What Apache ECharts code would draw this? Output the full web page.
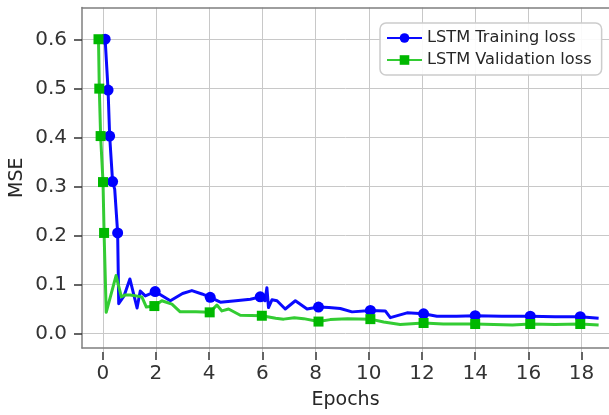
<!DOCTYPE html>
<html>
<head>
<meta charset="utf-8">
<script src="https://cdn.jsdelivr.net/npm/echarts@6/dist/echarts.min.js"></script>
<style>
  html, body { margin: 0; padding: 0; background: #fff; }
  #main { width: 609px; height: 415px; }
</style>
</head>
<body>
<div id="main"></div>
<script>
// LSTM training loss (blue)
const trainX = [0.09, 0.20, 0.26, 0.37, 0.45, 0.56, 0.60, 0.80, 1.02, 1.29, 1.41, 1.60, 1.97, 2.54, 3.00, 3.35, 3.73, 4.04, 4.42, 5.00, 5.55, 5.92, 6.10, 6.17, 6.23, 6.36, 6.55, 6.86, 7.24, 7.68, 8.11, 8.50, 8.93, 9.37, 10.06, 10.62, 10.81, 11.44, 12.06, 12.56, 13.30, 14.00, 15.00, 16.07, 17.00, 17.95, 18.64];
const trainY = [0.600, 0.495, 0.400, 0.306, 0.290, 0.200, 0.054, 0.070, 0.105, 0.045, 0.080, 0.070, 0.079, 0.060, 0.075, 0.081, 0.074, 0.067, 0.057, 0.060, 0.063, 0.068, 0.060, 0.087, 0.046, 0.062, 0.060, 0.043, 0.060, 0.043, 0.047, 0.046, 0.044, 0.037, 0.040, 0.039, 0.025, 0.035, 0.033, 0.028, 0.028, 0.029, 0.028, 0.028, 0.027, 0.027, 0.024];
const trainMarks = [0, 1, 2, 3, 5, 12, 17, 21, 30, 34, 38, 41, 43, 45];

// LSTM validation loss (green)
const valX = [-0.16, -0.13, -0.08, 0.01, 0.05, 0.13, 0.50, 0.70, 0.85, 1.03, 1.47, 1.64, 1.94, 2.22, 2.60, 2.91, 3.50, 4.02, 4.29, 4.48, 4.73, 5.17, 5.98, 6.50, 6.80, 7.20, 7.55, 8.11, 8.55, 9.20, 10.06, 10.56, 11.18, 12.06, 12.80, 14.00, 15.40, 16.07, 17.00, 17.95, 18.64];
const valY = [0.600, 0.498, 0.400, 0.305, 0.200, 0.036, 0.112, 0.068, 0.072, 0.072, 0.068, 0.047, 0.049, 0.060, 0.053, 0.037, 0.037, 0.036, 0.051, 0.039, 0.043, 0.030, 0.029, 0.024, 0.022, 0.025, 0.023, 0.017, 0.021, 0.023, 0.022, 0.016, 0.011, 0.014, 0.012, 0.012, 0.010, 0.012, 0.011, 0.012, 0.010];
const valMarks = [0, 1, 2, 3, 4, 12, 17, 22, 27, 30, 33, 35, 37, 39];

// tick ranges (first tick, last tick, step)
const xTickRange = [0, 18, 2];
const yTickRange = [0, 0.6, 0.1];

const seriesNames = ['LSTM Training loss', 'LSTM Validation loss'];

const font = 'DejaVu Sans';
const xMin = -0.78, xMax = 19.03;
const yMin = -0.0376, yMax = 0.6655;

// plot box
const W = 609, H = 415;
const L = 82, R = 0, T = 7.5, B = 63;
const pw = W - L - R, ph = H - T - B;
const ux = pw / (xMax - xMin), uy = ph / (yMax - yMin);

function points (xs, ys, marks) {
  return xs.map((x, i) => {
    const p = { value: [x, ys[i]] }
    if (marks.indexOf(i) < 0) p.symbol = 'none'
    return p
  })
}

const chart = echarts.init(document.getElementById('main'))

const spineStyle = { color: '#7f7f7f', width: 1.5 }
const off = { show: false }
const gridLine = { show: true, lineStyle: { color: '#c8c8c8', width: 1 } }
const tickOpt = () => ({ show: true, inside: false, length: 8, lineStyle: { color: '#333333', width: 1.5 } })

// ticks run from 0 to 18 and from 0 to 0.6, placed where those values fall on the data axes
const xtLeft = L + (xTickRange[0] - xMin) * ux
const xtRight = W - L - (xTickRange[1] - xMin) * ux
const ytTop = T + (yMax - yTickRange[1]) * uy
const ytBottom = B + (yTickRange[0] - yMin) * uy

// invisible helper series so the tick axes are not blank
function helper (xi, yi, data) {
  return {
    type: 'line', xAxisIndex: xi, yAxisIndex: yi, data: data,
    symbol: 'none', silent: true, lineStyle: { opacity: 0 }, tooltip: off
  }
}

const option = {
  animation: false,
  textStyle: { fontFamily: font },
  grid: [
    { left: L, right: R, top: T, bottom: B },             // data + spines
    { left: xtLeft, right: xtRight, top: T, bottom: B },  // x ticks, labels, grid lines
    { left: L, right: R, top: ytTop, bottom: ytBottom }   // y ticks, labels, grid lines
  ],
  legend: {
    data: seriesNames,
    orient: 'vertical',
    left: 380, top: 23,
    padding: [7, 10, 7, 6],
    itemGap: 6,
    itemWidth: 35, itemHeight: 12,
    borderColor: '#cccccc', borderWidth: 1.5, borderRadius: 6,
    backgroundColor: 'rgba(255,255,255,0.9)',
    textStyle: { fontFamily: font, fontSize: 16.2, color: '#262626' }
  },
  xAxis: [
    {
      gridIndex: 0, type: 'value', min: xMin, max: xMax,
      name: 'Epochs', nameLocation: 'middle', nameGap: 43,
      nameTextStyle: { fontFamily: font, fontSize: 19, color: '#262626' },
      axisLine: { show: true, onZero: false, lineStyle: spineStyle },
      axisTick: off, axisLabel: off, splitLine: off
    },
    {
      gridIndex: 0, type: 'value', position: 'top', min: xMin, max: xMax,
      axisLine: { show: true, onZero: false, lineStyle: spineStyle },
      axisTick: off, axisLabel: off, splitLine: off
    },
    {
      gridIndex: 1, type: 'value', position: 'bottom',
      min: xTickRange[0], max: xTickRange[1], interval: xTickRange[2],
      axisLine: { show: false, onZero: false },
      axisTick: tickOpt(),
      axisLabel: { fontSize: 20, color: '#333', margin: 12 },
      splitLine: gridLine
    },
    { gridIndex: 2, type: 'value', show: false }
  ],
  yAxis: [
    {
      gridIndex: 0, type: 'value', min: yMin, max: yMax,
      name: 'MSE', nameLocation: 'middle', nameGap: 55,
      nameTextStyle: { fontFamily: font, fontSize: 19, color: '#262626' },
      axisLine: { show: true, onZero: false, lineStyle: spineStyle },
      axisTick: off, axisLabel: off, splitLine: off
    },
    { gridIndex: 1, type: 'value', show: false },
    {
      gridIndex: 2, type: 'value', position: 'left',
      min: yTickRange[0], max: yTickRange[1], interval: yTickRange[2],
      axisLine: { show: false, onZero: false },
      axisTick: tickOpt(),
      axisLabel: { fontSize: 20, color: '#333', margin: 15, formatter: v => v.toFixed(1) },
      splitLine: gridLine
    }
  ],
  series: [
    helper(2, 1, [[xTickRange[0], 0], [xTickRange[1], 1]]),
    helper(3, 2, [[0, yTickRange[0]], [1, yTickRange[1]]]),
    {
      name: seriesNames[0],
      type: 'line', xAxisIndex: 0, yAxisIndex: 0,
      data: points(trainX, trainY, trainMarks),
      symbol: 'circle',
      showAllSymbol: true,
      symbolSize: 11,
      itemStyle: { color: '#0000ff' },
      lineStyle: { color: '#0a0aff', width: 3, join: 'round' }
    },
    {
      name: seriesNames[1],
      type: 'line', xAxisIndex: 0, yAxisIndex: 0,
      data: points(valX, valY, valMarks),
      symbol: 'rect',
      showAllSymbol: true,
      symbolSize: 10,
      itemStyle: { color: '#00b800' },
      lineStyle: { color: '#33cc33', width: 3, join: 'round' }
    }
  ]
}

chart.setOption(option)
</script>
</body>
</html>
